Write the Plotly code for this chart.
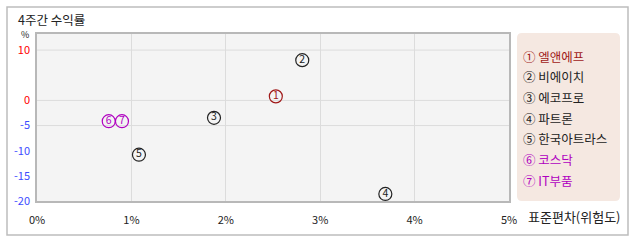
import plotly.graph_objects as go

names = ["엘앤에프", "비에이치", "에코프로", "파트론", "한국아트라스", "코스닥", "IT부품"]
nums = ["1", "2", "3", "4", "5", "6", "7"]
circled = ["①", "②", "③", "④", "⑤", "⑥", "⑦"]
stdev = [2.53, 2.81, 1.875, 3.69, 1.08, 0.76, 0.90]
returns = [0.8, 8.0, -3.46, -18.6, -10.8, -4.14, -4.14]
colors = ["#a01818", "#222222", "#222222", "#222222", "#222222", "#b000c0", "#b000c0"]

y_ticks = [10, 0, -5, -10, -15, -20]
x_ticks = [0, 1, 2, 3, 4, 5]

W, H = 638, 242
L, R, T, B = 37, 509, 34, 201
FONT = "Noto Sans CJK KR"

def px(x):
    return (x - L) / (R - L)

def py(y):
    return (B - y) / (B - T)

fig = go.Figure()
for i in range(len(names)):
    fig.add_trace(go.Scatter(
        x=[stdev[i]], y=[returns[i]], mode="markers+text",
        text=[nums[i]], textposition="middle center",
        textfont=dict(family=FONT, size=10.5, color=colors[i]),
        marker=dict(symbol="circle-open", size=13, color=colors[i], line=dict(width=1.2, color=colors[i])),
        showlegend=False, cliponaxis=False, hoverinfo="skip"))

ytext = []
for v in y_ticks:
    c = "#ff0000" if v >= 0 else "#3c4cff"
    ytext.append(f'<span style="color:{c}">{v}</span>')

fig.update_layout(
    width=W, height=H,
    margin=dict(l=L, r=W - R, t=T, b=H - B),
    paper_bgcolor="white", plot_bgcolor="#f4f4f4",
    font=dict(family=FONT, size=11, color="#222"),
    xaxis=dict(range=[0, 5], tickvals=x_ticks, ticktext=[f"{v}%" for v in x_ticks],
               showgrid=True, gridcolor="#dcdcdc", gridwidth=1, zeroline=False,
               showline=True, linecolor="#b8b8b8", linewidth=1.5, mirror=True,
               ticks="", ticklen=0, ticklabelstandoff=8, tickfont=dict(size=11, color="#222")),
    yaxis=dict(range=[-20, 13.2], tickvals=y_ticks, ticktext=ytext,
               showgrid=False, zeroline=False,
               showline=True, linecolor="#b8b8b8", linewidth=1.5, mirror=True,
               ticks="", ticklabelstandoff=3, tickfont=dict(size=11)),
)

shapes = []
for gv in [10, 0, -5]:
    shapes.append(dict(type="line", xref="paper", yref="y", x0=0, x1=1, y0=gv, y1=gv,
                       line=dict(color="#dcdcdc", width=1), layer="below"))
shapes.append(dict(type="rect", xref="paper", yref="paper", x0=px(7), x1=px(628), y0=py(235), y1=py(7),
                   line=dict(color="#bdbdbd", width=1.5), layer="below"))
lx0, lx1, ly0, ly1, r = 517, 620, 33, 201, 5
path = (f"M {px(lx0 + r)} {py(ly0)} L {px(lx1 - r)} {py(ly0)} "
        f"Q {px(lx1)} {py(ly0)} {px(lx1)} {py(ly0 + r)} L {px(lx1)} {py(ly1 - r)} "
        f"Q {px(lx1)} {py(ly1)} {px(lx1 - r)} {py(ly1)} L {px(lx0 + r)} {py(ly1)} "
        f"Q {px(lx0)} {py(ly1)} {px(lx0)} {py(ly1 - r)} L {px(lx0)} {py(ly0 + r)} "
        f"Q {px(lx0)} {py(ly0)} {px(lx0 + r)} {py(ly0)} Z")
shapes.append(dict(type="path", xref="paper", yref="paper", path=path,
                   fillcolor="#f5e8e1", line=dict(width=0), layer="below"))
fig.update_layout(shapes=shapes)

ann = []
ann.append(dict(text="4주간 수익률", xref="paper", yref="paper", x=px(16), y=py(19),
                xanchor="left", yanchor="middle", showarrow=False,
                font=dict(family=FONT, size=12.5, color="#222")))
ann.append(dict(text="%", xref="paper", yref="paper", x=px(25), y=py(34.5),
                xanchor="center", yanchor="middle", showarrow=False,
                font=dict(family=FONT, size=9, color="#222")))
ann.append(dict(text="표준편차(위험도)", xref="paper", yref="paper", x=px(526), y=py(216),
                xanchor="left", yanchor="middle", showarrow=False,
                font=dict(family=FONT, size=13, color="#222")))
for i in range(len(names)):
    ann.append(dict(text=f"{circled[i]} {names[i]}", xref="paper", yref="paper",
                    x=px(521), y=py(56 + i * 20.7), xanchor="left", yanchor="middle",
                    showarrow=False, font=dict(family=FONT, size=12.5, color=colors[i])))
fig.update_layout(annotations=ann)

fig.write_html("out.html")
